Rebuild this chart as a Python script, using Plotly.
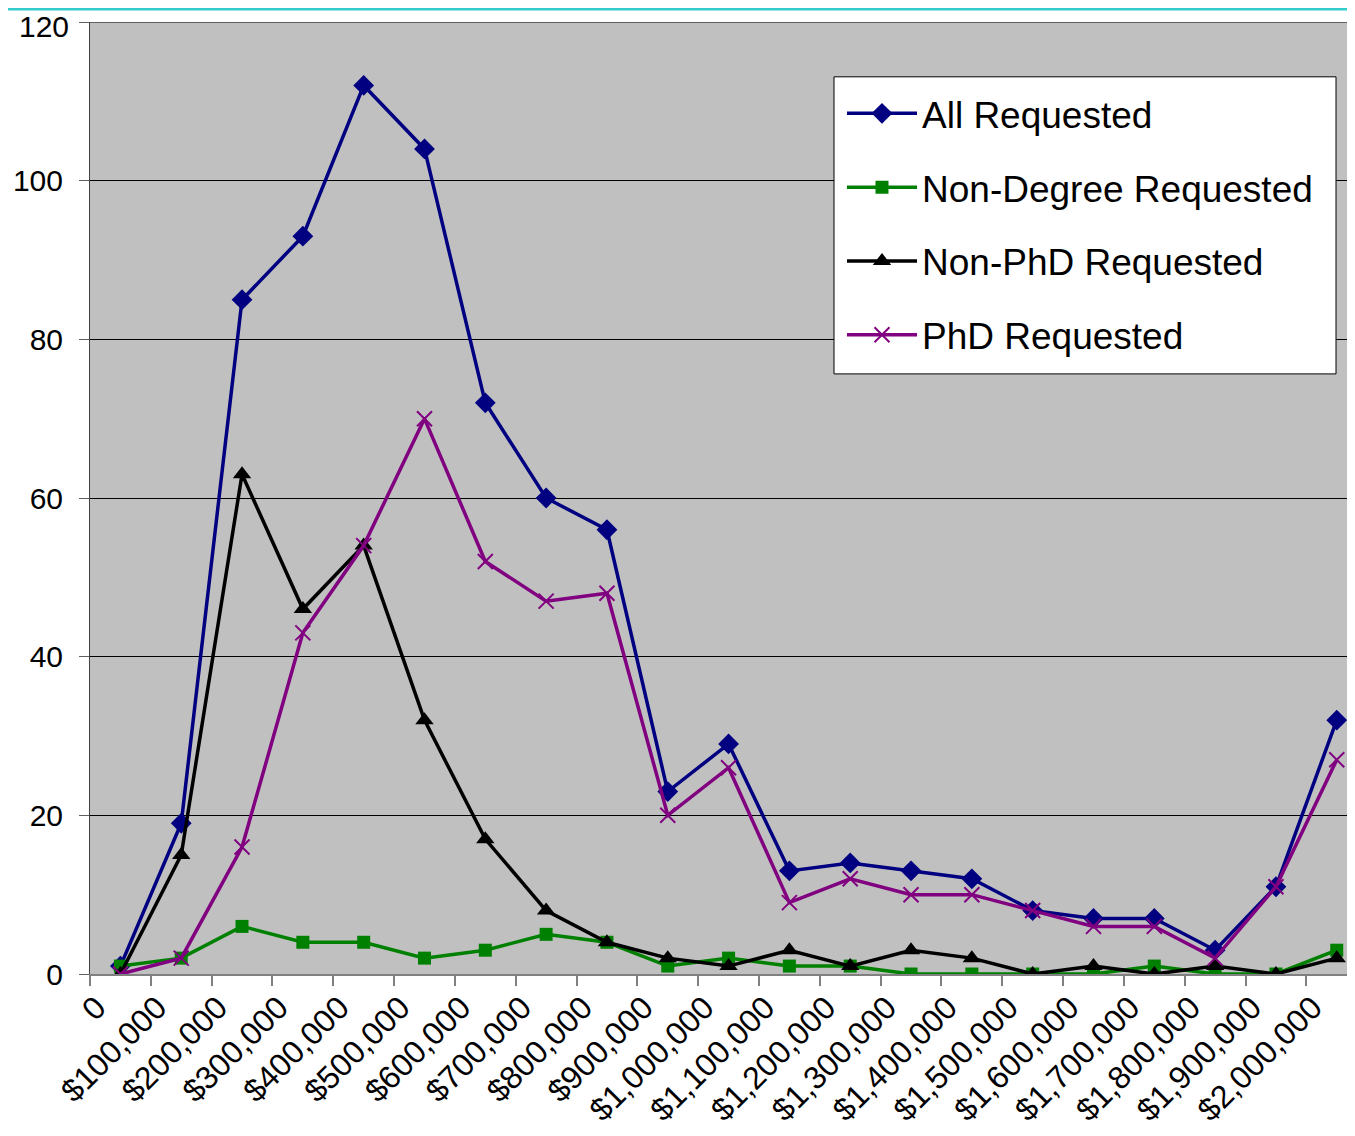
import plotly.graph_objects as go

categories = ["0", "$100,000", "$200,000", "$300,000", "$400,000", "$500,000", "$600,000",
              "$700,000", "$800,000", "$900,000", "$1,000,000", "$1,100,000", "$1,200,000",
              "$1,300,000", "$1,400,000", "$1,500,000", "$1,600,000", "$1,700,000",
              "$1,800,000", "$1,900,000", "$2,000,000"]
all_requested = [1, 19, 85, 93, 112, 104, 72, 60, 56, 23, 29, 13, 14, 13, 12, 8, 7, 7, 3, 11, 32]
non_degree = [1, 2, 6, 4, 4, 2, 3, 5, 4, 1, 2, 1, 1, 0, 0, 0, 0, 1, 0, 0, 3]
non_phd = [0, 15, 63, 46, 54, 32, 17, 8, 4, 2, 1, 3, 1, 3, 2, 0, 1, 0, 1, 0, 2]
phd = [0, 2, 16, 43, 54, 70, 52, 47, 48, 20, 26, 9, 12, 10, 10, 8, 6, 6, 2, 11, 27]
y_ticks = [0, 20, 40, 60, 80, 100, 120]

# page has an 8px body margin; compensate so the plot area lands at 90..1355 x 22..977
OFF = 8
W, H = 1355 - OFF, 1136 - 2 * OFF
ML, MR, MT = 90 - OFF, 0, 22 - OFF
MB = OFF + H - 977
PW, PH = W - ML - MR, H - MT - MB


def px_x(px):
    return (px - 90) / PW


def px_y(py):
    return (977 - py) / PH


series = [
    ("All Requested", all_requested, "#000080", "diamond", 16),
    ("Non-Degree Requested", non_degree, "#008000", "square", 13),
    ("Non-PhD Requested", non_phd, "#000000", "triangle-up", 16),
    ("PhD Requested", phd, "#800080", "x-thin-open", 15),
]

fig = go.Figure()
for name, vals, color, sym, size in series:
    mk = dict(symbol=sym, size=size, color=color)
    if sym.startswith("x-thin"):
        mk["line"] = dict(color=color, width=2)
    fig.add_trace(go.Scatter(
        x=categories, y=vals, name=name, mode="lines+markers",
        line=dict(color=color, width=3.5), marker=mk, legendgroup=name,
    ))

fig.update_layout(
    width=W, height=H,
    margin=dict(l=ML, r=MR, t=MT, b=MB, pad=0),
    paper_bgcolor="white",
    plot_bgcolor="#C0C0C0",
    font=dict(family="Liberation Sans, Arial, sans-serif", color="black"),
    showlegend=True,
    legend=dict(
        x=px_x(834 + 8), y=px_y(77 + 6), xanchor="left", yanchor="top",
        bgcolor="rgba(0,0,0,0)", borderwidth=0,
        font=dict(size=37, color="black"),
        itemwidth=70, tracegroupgap=22.7, traceorder="grouped",
    ),
    xaxis=dict(
        type="category", range=[-0.5, 20.3],
        tickson="boundaries", ticks="outside", ticklen=10, tickcolor="#808080", tickwidth=2,
        showline=True, linecolor="#808080", linewidth=2,
        showgrid=False, zeroline=False,
        tickangle=-45, tickfont=dict(size=32, color="black"),
        ticklabelshift=-24,
    ),
    yaxis=dict(
        range=[0, 120], tickvals=y_ticks, ticktext=[str(v) for v in y_ticks[:-1]] + [""],
        ticks="outside", ticklen=10, tickcolor="#606060", tickwidth=1,
        showline=True, linecolor="#404040", linewidth=1,
        showgrid=True, gridcolor="#000000", gridwidth=1,
        zeroline=False, ticklabelstandoff=10,
        tickfont=dict(size=30, color="black"),
    ),
    annotations=[dict(
        text=str(y_ticks[-1]), xref="paper", yref="y", x=0, y=y_ticks[-1],
        xanchor="right", yanchor="middle", xshift=-20, yshift=-4, showarrow=False,
        borderpad=0, font=dict(size=30, color="black"),
    )],
    shapes=[
        dict(type="line", xref="paper", yref="paper",
             x0=px_x(0), x1=1.0, y0=px_y(OFF + 1), y1=px_y(OFF + 1),
             line=dict(color="#33CCCC", width=3)),
        dict(type="line", xref="paper", yref="y", layer="below",
             x0=0, x1=1.0, y0=120, y1=120,
             line=dict(color="#606060", width=2)),
        dict(type="rect", xref="paper", yref="paper", layer="above",
             x0=px_x(834), x1=px_x(1336), y0=px_y(375), y1=px_y(77),
             fillcolor="white", line=dict(color="black", width=1)),
    ],
)

fig.write_html("out.html")
